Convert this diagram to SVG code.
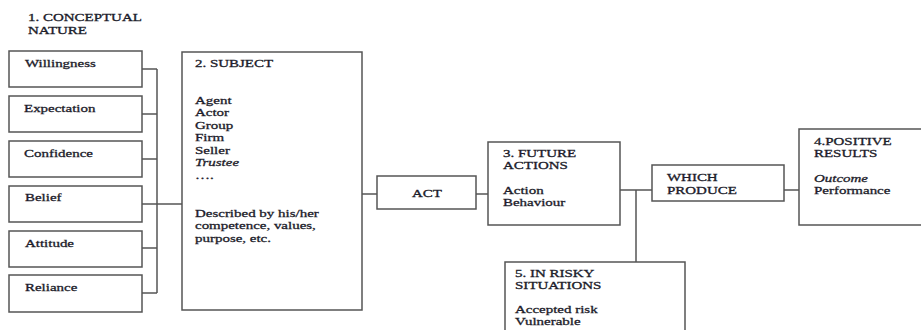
<svg xmlns="http://www.w3.org/2000/svg" width="921" height="330" viewBox="0 0 921 330">
<style>
.box{fill:#fff;stroke:#555;stroke-width:1.5}
.ln{fill:none;stroke:#555;stroke-width:1.5}
text{font-family:"Liberation Serif","Times New Roman",serif;font-size:11px;fill:#1c1c2a;stroke:#1c1c2a;stroke-width:0.3}
.i{font-style:italic}
</style>
<rect width="921" height="330" fill="#fff"/>
<text transform="translate(28,21) scale(1.36,1)"><tspan x="0" y="0">1. CONCEPTUAL</tspan><tspan x="0" dy="13">NATURE</tspan></text>

<g id="connectors">
<path class="ln" d="M142 69H157M142 114H157M142 159H157M142 204H182M142 248H157M142 293H157M157 69V293"/>
<path class="ln" d="M362 194H377M476 194H488M620 190H652M636 190V262M784 190H799"/>
</g>

<g id="willingness"><rect class="box" x="9" y="51" width="133" height="36"/><text transform="translate(25,67) scale(1.36,1)">Willingness</text></g>
<g id="expectation"><rect class="box" x="9" y="96" width="133" height="36"/><text transform="translate(24,112) scale(1.36,1)">Expectation</text></g>
<g id="confidence"><rect class="box" x="9" y="141" width="133" height="36"/><text transform="translate(24,157) scale(1.36,1)">Confidence</text></g>
<g id="belief"><rect class="box" x="9" y="186" width="133" height="36"/><text transform="translate(25,201) scale(1.36,1)">Belief</text></g>
<g id="attitude"><rect class="box" x="9" y="231" width="133" height="36"/><text transform="translate(25,247) scale(1.36,1)">Attitude</text></g>
<g id="reliance"><rect class="box" x="9" y="275" width="133" height="37"/><text transform="translate(25,291) scale(1.36,1)">Reliance</text></g>

<g id="subject"><rect class="box" x="182" y="52" width="180" height="258"/>
<text transform="translate(195,67) scale(1.36,1)"><tspan x="0" y="0">2. SUBJECT</tspan><tspan x="0" y="37">Agent</tspan><tspan x="0" y="49.5">Actor</tspan><tspan x="0" y="62">Group</tspan><tspan x="0" y="74.5">Firm</tspan><tspan x="0" y="87">Seller</tspan><tspan class="i" x="0" y="99.5">Trustee</tspan><tspan x="0" y="112">….</tspan><tspan x="0" y="150">Described by his/her</tspan><tspan x="0" y="162.5">competence, values,</tspan><tspan x="0" y="175">purpose, etc.</tspan></text></g>

<g id="act"><rect class="box" x="377" y="176" width="99" height="33"/><text transform="translate(427,197) scale(1.36,1)" text-anchor="middle">ACT</text></g>

<g id="future"><rect class="box" x="488" y="142" width="132" height="83"/>
<text transform="translate(503,157) scale(1.36,1)"><tspan x="0" y="0">3. FUTURE</tspan><tspan x="0" y="12.5">ACTIONS</tspan><tspan x="0" y="37">Action</tspan><tspan x="0" y="49.5">Behaviour</tspan></text></g>

<g id="which"><rect class="box" x="652" y="165" width="132" height="36"/>
<text transform="translate(667,181) scale(1.36,1)"><tspan x="0" y="0">WHICH</tspan><tspan x="0" y="13">PRODUCE</tspan></text></g>

<g id="positive"><rect class="box" x="799" y="129" width="130" height="96"/>
<text transform="translate(814,145) scale(1.36,1)"><tspan x="0" y="0">4.POSITIVE</tspan><tspan x="0" y="12.5">RESULTS</tspan><tspan class="i" x="0" y="37">Outcome</tspan><tspan x="0" y="49.5">Performance</tspan></text></g>

<g id="risky"><rect class="box" x="505" y="262" width="180" height="80"/>
<text transform="translate(515,277) scale(1.36,1)"><tspan x="0" y="0">5. IN RISKY</tspan><tspan x="0" y="12.5">SITUATIONS</tspan><tspan x="0" y="36">Accepted risk</tspan><tspan x="0" y="48.5">Vulnerable</tspan></text></g>
</svg>
